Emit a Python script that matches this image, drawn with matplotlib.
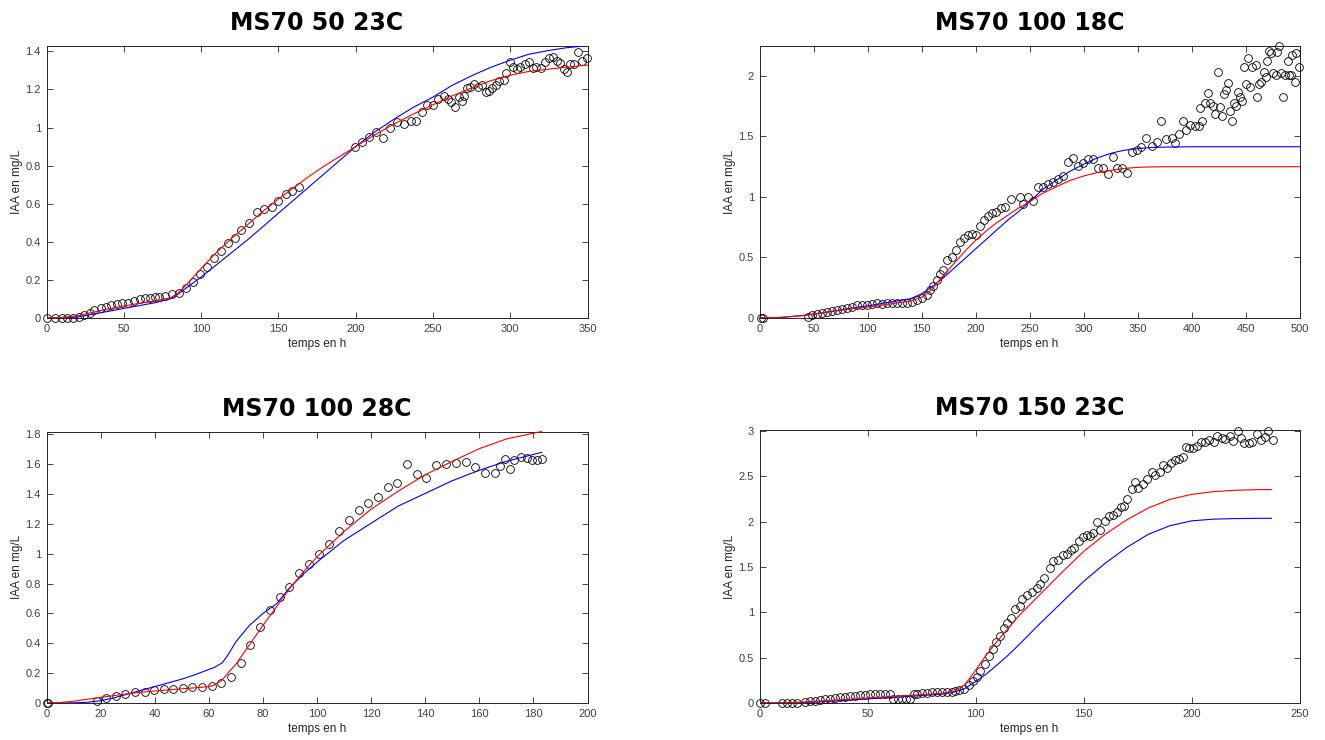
import matplotlib
matplotlib.use("Agg")
import matplotlib.pyplot as plt
from matplotlib.ticker import FuncFormatter

# ---- MS70 50 23C ----
t_50_23 = [0.1, 5.5, 9.8, 13.4, 17, 20.9, 24, 28, 31, 35, 38.6, 42, 45.7, 49, 52.5,
           56.4, 60.3, 63.5, 67, 70, 72.5, 76.8, 81.3, 86, 90, 95, 99, 103.8, 108.5,
           112.8, 117.3, 122, 126, 131, 136, 141, 145.7, 150, 154.8, 159, 163.6,
           199.5, 204, 208.6, 213, 217.6, 222, 226.7, 231, 235.5, 239.3, 242.7, 246,
           250, 253.6, 257.3, 259.9, 262, 264.3, 266.8, 269, 270.3, 271.8, 274.3,
           276.7, 279.2, 282, 284.2, 286, 288.3, 290.7, 293, 295.7, 297.5, 300, 302,
           304.3, 306.4, 309.4, 312.4, 314.5, 317, 320, 322.8, 325.3, 327.5, 330,
           332.5, 335, 336.8, 338.7, 341.5, 344, 346.4, 349.4]
iaa_50_23 = [0, 0, 0, 0, 0, 0.003, 0.014, 0.025, 0.04, 0.05, 0.06, 0.068, 0.072, 0.077,
             0.08, 0.089, 0.098, 0.103, 0.106, 0.11, 0.11, 0.113, 0.127, 0.132, 0.16,
             0.19, 0.23, 0.27, 0.315, 0.35, 0.395, 0.42, 0.46, 0.5, 0.555, 0.575, 0.585,
             0.615, 0.65, 0.665, 0.69,
             0.897, 0.923, 0.953, 0.975, 0.946, 0.998, 1.028, 1.017, 1.037, 1.037, 1.084,
             1.12, 1.12, 1.15, 1.167, 1.15, 1.133, 1.106, 1.158, 1.14, 1.167, 1.206,
             1.215, 1.229, 1.215, 1.225, 1.188, 1.19, 1.206, 1.225, 1.242, 1.249, 1.286,
             1.342, 1.32, 1.306, 1.318, 1.336, 1.345, 1.311, 1.318, 1.315, 1.345, 1.365,
             1.372, 1.35, 1.34, 1.306, 1.29, 1.336, 1.336, 1.398, 1.35, 1.365]
fit_t_50_23 = [0, 10, 20, 30, 40, 50, 60, 70, 80, 85, 90, 100, 110, 120, 130, 140, 150,
               160, 170, 180, 190, 200, 212, 225, 237, 250, 262, 275, 287, 300, 312,
               325, 337, 350]
red_50_23 = [0, 0.003, 0.012, 0.03, 0.048, 0.063, 0.077, 0.09, 0.105, 0.13, 0.17, 0.26,
             0.345, 0.42, 0.49, 0.56, 0.625, 0.685, 0.745, 0.8, 0.85, 0.9, 0.96, 1.02,
             1.07, 1.12, 1.165, 1.208, 1.245, 1.275, 1.295, 1.307, 1.318, 1.328]
blue_50_23 = [0, 0, 0.005, 0.02, 0.035, 0.05, 0.065, 0.08, 0.1, 0.125, 0.155, 0.215,
              0.28, 0.345, 0.41, 0.48, 0.55, 0.62, 0.69, 0.76, 0.83, 0.9, 0.975, 1.045,
              1.105, 1.16, 1.22, 1.272, 1.315, 1.354, 1.385, 1.405, 1.42, 1.43]

# ---- MS70 100 18C ----
t_100_18 = [1, 3.5, 45, 48.7, 53.3, 57.9, 62.6, 67, 71.8, 76.4, 81, 85.6, 90.3, 94.9,
            99.5, 104, 108.6, 113.3, 117.9, 122.5, 127, 131.7, 136.3, 140.9, 145.5, 150,
            154.8, 157.9, 161, 164, 167, 170.2, 173.8, 177.8, 181.5, 185.5, 189.5,
            193.2, 196.9, 200.3, 204, 208, 211.7, 215.4, 219.4, 223.4, 227.7, 233.3,
            241, 244.3, 248.9, 253.5, 258.2, 262.8, 267.4, 272, 276.7, 281.3, 285.9,
            290.5, 295.2, 299.8, 304.4, 309, 313.6, 318.3, 322.9, 326.9, 331.2, 335.9,
            339.9, 344.5, 349.1, 353.7, 358.3, 363, 367.6, 372.2, 376.2, 381.5, 384.5,
            388.5, 392.2, 395.3, 399, 403, 407, 408.2, 410, 412.2, 415.3, 416.8, 419.9,
            421.4, 424.5, 426, 428.5, 429.7, 432.2, 433.7, 435.2, 437.4, 438.9, 441.4,
            443, 444.5, 447, 448.2, 450.1, 452.2, 453.8, 456.3, 459.3, 460.6, 462.4,
            464.6, 466.7, 468.6, 469.8, 471.7, 473.8, 475.4, 477.9, 479.1, 480.9, 483.1,
            484.6, 486.8, 489.2, 490.1, 492.3, 493.2, 495.4, 496.3, 499.4]
iaa_100_18 = [0, 0, 0.009, 0.022, 0.036, 0.042, 0.05, 0.058, 0.069, 0.077, 0.083, 0.091,
              0.105, 0.111, 0.111, 0.119, 0.124, 0.119, 0.127, 0.127, 0.124, 0.127, 0.127,
              0.133, 0.147, 0.166, 0.188, 0.229, 0.262, 0.318, 0.367, 0.395, 0.478, 0.505,
              0.56, 0.63, 0.665, 0.684, 0.698, 0.684, 0.759, 0.809, 0.842, 0.864, 0.878,
              0.905, 0.914, 0.98,
              1.0, 0.94, 1.0, 0.97, 1.08, 1.085, 1.11, 1.125, 1.145, 1.173, 1.286, 1.32,
              1.26, 1.278, 1.31, 1.31, 1.24, 1.236, 1.19, 1.33, 1.236, 1.236, 1.2, 1.374,
              1.388, 1.416, 1.49, 1.42, 1.454, 1.63, 1.476, 1.49, 1.45, 1.52, 1.63, 1.553,
              1.594, 1.587, 1.587, 1.733, 1.63, 1.78, 1.857, 1.775, 1.75, 1.686, 2.036,
              1.74, 1.67, 1.85, 1.885, 1.945, 1.714, 1.63, 1.775, 1.75, 1.87, 1.83, 1.79,
              2.078, 1.934, 2.147, 1.912, 2.078, 2.09, 1.824, 1.934, 1.954, 2.036, 1.995,
              2.12, 2.208, 2.188, 2.023, 2.004, 2.194, 2.25, 2.028, 1.83, 2.009, 2.12,
              2.009, 2.009, 2.175, 1.954, 2.188, 2.072]
fit_t_100_18 = [0, 20, 40, 60, 80, 100, 120, 140, 150, 160, 170, 180, 190, 200, 210, 220,
                230, 240, 250, 262, 275, 287, 300, 312, 325, 337, 350, 362, 375, 400,
                450, 500]
red_100_18 = [0, 0.005, 0.02, 0.045, 0.07, 0.09, 0.115, 0.14, 0.17, 0.24, 0.35, 0.45,
              0.55, 0.64, 0.72, 0.79, 0.85, 0.91, 0.96, 1.03, 1.085, 1.135, 1.173, 1.2,
              1.22, 1.235, 1.245, 1.248, 1.25, 1.25, 1.25, 1.25]
blue_100_18 = [0, 0.005, 0.02, 0.045, 0.075, 0.1, 0.13, 0.16, 0.2, 0.26, 0.33, 0.41,
               0.49, 0.57, 0.65, 0.73, 0.81, 0.88, 0.96, 1.06, 1.14, 1.21, 1.27, 1.32,
               1.36, 1.385, 1.4, 1.408, 1.412, 1.415, 1.415, 1.415]

# ---- MS70 100 28C ----
t_100_28 = [0, 0.5, 18.6, 22, 25.7, 29.2, 32.7, 36.3, 39.8, 43.4, 46.8, 50.4, 53.9, 57.5,
            61, 64.6, 68.3, 71.9, 75.4, 79, 82.6, 86.3, 89.8, 93.4, 97, 100.6, 104.3,
            108, 111.7, 115.4, 118.8, 122.5, 126.1, 129.6, 133.2, 136.9, 140.4, 144,
            147.7, 151.3, 155, 158.5, 162.1, 165.8, 167.5, 169.4, 171.2, 173, 175.4,
            177.5, 179.3, 181.2, 183]
iaa_100_28 = [0, 0, 0.015, 0.033, 0.048, 0.062, 0.071, 0.077, 0.088, 0.093, 0.097, 0.102,
              0.106, 0.11, 0.117, 0.133, 0.177, 0.265, 0.387, 0.509, 0.624, 0.708, 0.779,
              0.87, 0.93, 0.996, 1.067, 1.15, 1.228, 1.292, 1.343, 1.383, 1.45, 1.478,
              1.605, 1.534, 1.51, 1.593, 1.605, 1.609, 1.615, 1.582, 1.54, 1.54, 1.589,
              1.633, 1.571, 1.631, 1.646, 1.642, 1.631, 1.631, 1.638]
fit_t_100_28 = [0, 5, 10, 15, 20, 25, 30, 35, 40, 45, 50, 55, 60, 62, 65, 67, 70, 75, 80,
                85, 90, 95, 100, 110, 120, 130, 140, 150, 160, 170, 183]
red_100_28 = [0, 0.003, 0.012, 0.025, 0.038, 0.05, 0.062, 0.072, 0.08, 0.088, 0.095,
              0.102, 0.11, 0.12, 0.155, 0.2, 0.26, 0.39, 0.52, 0.645, 0.77, 0.88, 0.98,
              1.15, 1.3, 1.42, 1.53, 1.62, 1.705, 1.77, 1.82]
blue_100_28 = [0, 0, 0.001, 0.005, 0.015, 0.035, 0.06, 0.085, 0.11, 0.135, 0.16, 0.19,
               0.225, 0.238, 0.27, 0.32, 0.41, 0.52, 0.6, 0.665, 0.775, 0.865, 0.945, 1.09,
               1.205, 1.32, 1.405, 1.49, 1.56, 1.62, 1.68]

# ---- MS70 150 23C ----
t_150_23 = [0, 2.6, 10.4, 12.7, 15, 17.3, 21.2, 23.5, 25.8, 28.1, 30.4, 32.7, 35, 37.4,
            39.7, 42, 44.3, 46.6, 48.9, 51.3, 53.6, 55.9, 58.2, 60.5, 62, 63.9, 65.9,
            67.9, 69.8, 71.3, 72.8, 75.2, 77.5, 79.8, 82.1, 84.4, 86.8, 89.1, 90.6, 92.2,
            94.5, 96.8, 98.8, 100.7, 102.2, 104.2, 106.1, 107.9, 109.6, 111.4, 113,
            114.8, 116.4, 118.4, 120.4, 121.5, 123.8, 126.1, 128.4, 130, 131.8, 134.3,
            136.1, 138.4, 140.4, 142.3, 144.1, 145.7, 147.7, 149.7, 151.5, 153.1, 154.6,
            156.2, 157.7, 160, 162, 163.6, 165.4, 167.3, 168.8, 170.3, 172.3, 173.9,
            175.4, 177.4, 179.6, 181.6, 183.2, 185.2, 186.7, 188.6, 190.4, 192.4, 194.3,
            196, 197.5, 199, 200.6, 202.5, 204.3, 206.3, 208.3, 210.5, 212, 214, 215.6,
            217.6, 219.4, 221.3, 223, 224.4, 226.4, 228.2, 230.2, 232.1, 234.1, 235.6,
            237.6]
iaa_150_23 = [0, 0, 0, 0, 0, 0, 0.01, 0.018, 0.025, 0.033, 0.04, 0.047, 0.055, 0.062,
              0.069, 0.077, 0.08, 0.084, 0.091, 0.095, 0.098, 0.102, 0.102, 0.095, 0.047,
              0.047, 0.047, 0.047, 0.047, 0.095, 0.102, 0.109, 0.113, 0.117, 0.12, 0.12,
              0.124, 0.124, 0.131, 0.139, 0.157, 0.193, 0.241, 0.292, 0.358, 0.43, 0.522,
              0.595, 0.675, 0.74, 0.825, 0.887, 0.941, 1.032, 1.069, 1.142, 1.19, 1.226,
              1.27, 1.313, 1.379, 1.488, 1.561, 1.572, 1.634, 1.642, 1.689, 1.707, 1.788,
              1.835, 1.853, 1.846, 1.872, 1.992, 1.908, 2.007, 2.065, 2.072, 2.109, 2.163,
              2.174, 2.247, 2.364, 2.437, 2.371, 2.419, 2.474, 2.546, 2.517, 2.546, 2.619,
              2.59, 2.649, 2.674, 2.685, 2.711, 2.82, 2.809, 2.809, 2.831, 2.882, 2.882,
              2.904, 2.875, 2.948, 2.918, 2.911, 2.948, 2.893, 3.003, 2.918, 2.867, 2.867,
              2.875, 2.966, 2.904, 2.93, 2.995, 2.904]
fit_t_150_23 = [0, 10, 20, 30, 40, 50, 60, 70, 80, 85, 90, 95, 100, 105, 110, 115, 120,
                125, 130, 140, 150, 160, 170, 180, 190, 200, 210, 220, 230, 237]
red_150_23 = [0, 0.002, 0.01, 0.025, 0.04, 0.055, 0.07, 0.085, 0.1, 0.11, 0.13, 0.2,
              0.36, 0.53, 0.68, 0.82, 0.96, 1.08, 1.2, 1.44, 1.67, 1.86, 2.02, 2.15,
              2.245, 2.3, 2.33, 2.345, 2.352, 2.353]
blue_150_23 = [0, 0.001, 0.005, 0.015, 0.03, 0.045, 0.06, 0.075, 0.09, 0.1, 0.12, 0.16,
               0.235, 0.32, 0.42, 0.525, 0.64, 0.76, 0.88, 1.11, 1.34, 1.54, 1.715, 1.86,
               1.955, 2.008, 2.027, 2.033, 2.036, 2.036]

titles = ["MS70 50 23C", "MS70 100 18C", "MS70 100 28C", "MS70 150 23C"]
xlims = [350, 500, 200, 250]
ylims = [1.43, 2.25, 1.82, 3.01]
xsteps = [50, 50, 20, 50]
ysteps = [0.2, 0.5, 0.2, 0.5]

panels = [
    (t_50_23, iaa_50_23, fit_t_50_23, red_50_23, blue_50_23),
    (t_100_18, iaa_100_18, fit_t_100_18, red_100_18, blue_100_18),
    (t_100_28, iaa_100_28, fit_t_100_28, red_100_28, blue_100_28),
    (t_150_23, iaa_150_23, fit_t_150_23, red_150_23, blue_150_23),
]

# axes boxes in pixels: left, top, right, bottom
boxes = [(46.5, 45.7, 587.5, 318.0), (759.5, 45.7, 1299.5, 318.0),
         (46.5, 431.5, 587.5, 703.0), (759.5, 430.0, 1299.5, 703.0)]

W, H = 1325, 740
fig = plt.figure(figsize=(W / 100, H / 100), dpi=100)
ink = "#262626"

for i, (t, iaa, ft, red, blue) in enumerate(panels):
    l, tp, r, b = boxes[i]
    ax = fig.add_axes([l / W, 1 - b / H, (r - l) / W, (b - tp) / H])
    ax.plot(t, iaa, "o", mfc="none", mec="black", ms=5.6, mew=0.6, clip_on=False, zorder=3)
    ax.plot(ft, blue, color="#0000ff", lw=0.8, zorder=4)
    ax.plot(ft, red, color="#ff0000", lw=0.8, zorder=5)

    ax.set_xlim(0, xlims[i])
    ax.set_ylim(0, ylims[i])
    xt = [k * xsteps[i] for k in range(int(round(xlims[i] / xsteps[i])) + 1)]
    nyt = int(ylims[i] / ysteps[i] + 1e-6)
    yt = [round(k * ysteps[i], 2) for k in range(nyt + 1)]
    ax.set_xticks(xt)
    ax.set_yticks(yt)
    ax.yaxis.set_major_formatter(FuncFormatter(lambda v, p: "%g" % v))
    ax.tick_params(direction="in", top=True, right=True, length=4, width=0.6,
                   colors=ink, labelsize=8, pad=4)
    for s in ax.spines.values():
        s.set_color(ink)
        s.set_linewidth(0.7)
    for lab in ax.get_xticklabels() + ax.get_yticklabels():
        lab.set_family("Liberation Sans")
        lab.set_color("#404040")

    ax.set_title(titles[i], fontsize=17, fontweight="bold", family="DejaVu Sans", pad=11)
    ax.set_xlabel("temps en h", fontsize=8.5, family="Liberation Sans", color=ink, labelpad=3)
    ax.set_ylabel("IAA en mg/L", fontsize=8.5, family="Liberation Sans", color=ink, labelpad=2)

fig.savefig("out.png", dpi=100)
